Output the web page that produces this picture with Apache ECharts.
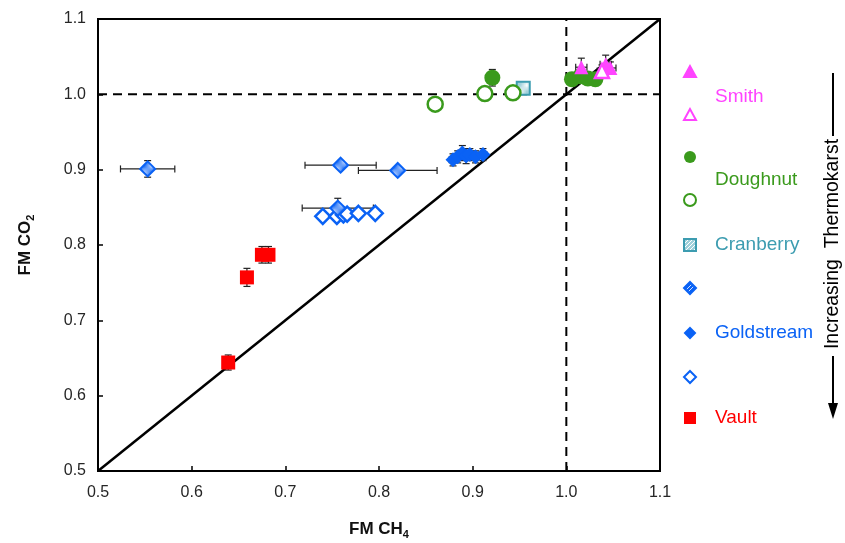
<!DOCTYPE html>
<html>
<head>
<meta charset="utf-8">
<script src="https://cdn.jsdelivr.net/npm/echarts@6/dist/echarts.min.js"></script>
<style>
  html, body { margin: 0; padding: 0; background: #fff; }
  #chart { width: 845px; height: 543px; }
</style>
</head>
<body>
<div id="chart"></div>
<script>
// Axis ticks
const xTicks = [0.5, 0.6, 0.7, 0.8, 0.9, 1.0, 1.1]
const yTicks = [0.5, 0.6, 0.7, 0.8, 0.9, 1.0, 1.1]

// Smith
const smithFilledX = [1.016, 1.042, 1.047]
const smithFilledY = [1.036, 1.040, 1.035]
const smithFilledXErr = [0.006, 0.006, 0.006]
const smithFilledYErr = [0.012, 0.012, 0.008]
const smithOpenX = [1.038]
const smithOpenY = [1.031]
const smithOpenXErr = [0.005]
const smithOpenYErr = [0.008]

// Doughnut
const doughFilledX = [0.921, 1.006, 1.015, 1.023, 1.031]
const doughFilledY = [1.022, 1.020, 1.024, 1.021, 1.020]
const doughFilledXErr = [0, 0.004, 0.004, 0.004, 0.004]
const doughFilledYErr = [0.011, 0.006, 0.006, 0.006, 0.006]
const doughOpenX = [0.860, 0.913, 0.943]
const doughOpenY = [0.987, 1.001, 1.002]

// Cranberry
const cranX = [0.954]
const cranY = [1.008]

// Goldstream
const goldHatchX = [0.553, 0.759, 0.820, 0.756]
const goldHatchY = [0.901, 0.906, 0.899, 0.849]
const goldHatchXErr = [0.029, 0.038, 0.042, 0.038]
const goldHatchYErr = [0.011, 0.003, 0.003, 0.013]
const goldSolidX = [0.879, 0.884, 0.889, 0.893, 0.897, 0.903, 0.911]
const goldSolidY = [0.913, 0.917, 0.922, 0.918, 0.920, 0.917, 0.920]
const goldSolidXErr = [0.004, 0.004, 0.004, 0.004, 0.004, 0.004, 0.004]
const goldSolidYErr = [0.008, 0.008, 0.010, 0.010, 0.008, 0.008, 0.008]
const goldOpenX = [0.740, 0.755, 0.762, 0.766, 0.778, 0.796]
const goldOpenY = [0.838, 0.838, 0.840, 0.841, 0.842, 0.842]

// Vault
const vaultX = [0.639, 0.659, 0.675, 0.682]
const vaultY = [0.644, 0.757, 0.787, 0.787]
const vaultYErr = [0.010, 0.012, 0.011, 0.011]

const C_SMITH = '#ff44ff'
const C_DOUGH = '#3a9a1c'
const C_CRAN = '#3c9cb0'
const C_GOLD = '#0a62f5'
const C_VAULT = '#ff0000'
const FONT = 'Liberation Sans, Arial, sans-serif'

const pts = (xs, ys) => xs.map((x, i) => [x, ys[i]])
const errs = (xs, ys, ex, ey) => xs.map((x, i) => [x, ys[i], ex ? ex[i] : 0, ey ? ey[i] : 0])

// hatch fill
const hatch = (bg, fg) => {
  const c = document.createElement('canvas')
  c.width = 4; c.height = 4
  const ctx = c.getContext('2d')
  ctx.fillStyle = bg
  ctx.fillRect(0, 0, 4, 4)
  ctx.strokeStyle = fg
  ctx.lineWidth = 1
  ctx.beginPath()
  ctx.moveTo(0, 4); ctx.lineTo(4, 0)
  ctx.stroke()
  return c
}
const goldHatch = { image: hatch(C_GOLD, '#cfe0ff'), repeat: 'repeat' }
const cranHatch = { image: hatch('#9fd0da', '#ffffff'), repeat: 'repeat' }

const errorData = [
  ...errs(smithFilledX, smithFilledY, smithFilledXErr, smithFilledYErr),
  ...errs(smithOpenX, smithOpenY, smithOpenXErr, smithOpenYErr),
  ...errs(doughFilledX, doughFilledY, doughFilledXErr, doughFilledYErr),
  ...errs(goldHatchX, goldHatchY, goldHatchXErr, goldHatchYErr),
  ...errs(goldSolidX, goldSolidY, goldSolidXErr, goldSolidYErr),
  ...errs(vaultX, vaultY, null, vaultYErr)
]

const chart = echarts.init(document.getElementById('chart'))

const seg = (x1, y1, x2, y2) => ({
  type: 'line',
  shape: { x1, y1, x2, y2 },
  style: { stroke: '#222', lineWidth: 1.2 }
})

const renderError = (params, api) => {
  const x = api.value(0), y = api.value(1), ex = api.value(2), ey = api.value(3)
  const c = api.coord([x, y])
  const cap = 3.5
  const children = []
  if (ey > 0) {
    const t = api.coord([x, y + ey]), b = api.coord([x, y - ey])
    children.push(seg(c[0], t[1], c[0], b[1]), seg(c[0] - cap, t[1], c[0] + cap, t[1]), seg(c[0] - cap, b[1], c[0] + cap, b[1]))
  }
  if (ex > 0) {
    const l = api.coord([x - ex, y]), r = api.coord([x + ex, y])
    children.push(seg(l[0], c[1], r[0], c[1]), seg(l[0], c[1] - cap, l[0], c[1] + cap), seg(r[0], c[1] - cap, r[0], c[1] + cap))
  }
  return { type: 'group', children }
}

const axisCommon = {
  type: 'value',
  min: 0.5,
  max: 1.1,
  interval: 0.1,
  axisLine: { lineStyle: { color: '#000', width: 2 } },
  axisTick: { inside: true, length: 5, lineStyle: { color: '#000', width: 1.5 } },
  splitLine: { show: false },
  axisLabel: { formatter: v => v.toFixed(1), color: '#262626', fontSize: 16, fontFamily: FONT }
}

const nameRich = {
  b: { fontWeight: 'bold', fontSize: 17, fontFamily: FONT, color: '#111', lineHeight: 22 },
  s: { fontWeight: 'bold', fontSize: 11, fontFamily: FONT, color: '#111', lineHeight: 11, verticalAlign: 'bottom' }
}

// legend keys (right side)
const LX = 690, TX = 715
const tri = (y, fill, stroke) => ({
  type: 'polygon',
  shape: { points: [[LX, y - 6], [LX - 6, y + 5], [LX + 6, y + 5]] },
  style: { fill, stroke, lineWidth: 2 }
})
const dia = (y, fill, stroke, r) => ({
  type: 'polygon',
  shape: { points: [[LX, y - r], [LX + r, y], [LX, y + r], [LX - r, y]] },
  style: { fill, stroke, lineWidth: 2 }
})
const label = (y, text, color) => ({
  type: 'text', x: TX, y,
  style: { text, fill: color, font: '19px ' + FONT, verticalAlign: 'middle' }
})

const solid = (color, extra) => ({ color, opacity: 1, ...extra })

chart.setOption({
  animation: false,
  grid: {
    left: 98, right: 185, top: 19, bottom: 72,
    outerBoundsMode: 'none', containLabel: false,
    show: true, borderColor: '#000', borderWidth: 2
  },
  xAxis: {
    ...axisCommon,
    axisLabel: { ...axisCommon.axisLabel, margin: 14 },
    name: '{b|FM CH}{s|4}',
    nameLocation: 'middle',
    nameGap: 47,
    nameTextStyle: { rich: nameRich }
  },
  yAxis: {
    ...axisCommon,
    axisLabel: { ...axisCommon.axisLabel, margin: 12 },
    name: '{b|FM CO}{s|2}',
    nameLocation: 'middle',
    nameGap: 62,
    nameRotate: 90,
    nameTextStyle: { rich: nameRich }
  },
  graphic: [
    tri(72, C_SMITH, C_SMITH),
    label(97, 'Smith', C_SMITH),
    tri(115, '#fff', C_SMITH),
    { type: 'circle', shape: { cx: LX, cy: 157, r: 6 }, style: { fill: C_DOUGH } },
    label(180, 'Doughnut', C_DOUGH),
    { type: 'circle', shape: { cx: LX, cy: 200, r: 6 }, style: { fill: '#fff', stroke: C_DOUGH, lineWidth: 2 } },
    { type: 'rect', shape: { x: LX - 6, y: 239, width: 12, height: 12 }, style: { fill: cranHatch, stroke: C_CRAN, lineWidth: 2 } },
    label(245, 'Cranberry', C_CRAN),
    dia(288, goldHatch, C_GOLD, 6),
    dia(333, C_GOLD, C_GOLD, 5),
    label(333, 'Goldstream', C_GOLD),
    dia(377, '#fff', C_GOLD, 6),
    { type: 'rect', shape: { x: LX - 6, y: 412, width: 12, height: 12 }, style: { fill: C_VAULT } },
    label(418, 'Vault', C_VAULT),
    { type: 'line', shape: { x1: 833, y1: 73, x2: 833, y2: 136 }, style: { stroke: '#000', lineWidth: 2 } },
    {
      type: 'text', x: 833, y: 244, rotation: Math.PI / 2,
      style: { text: 'Increasing  Thermokarst', font: '19.5px ' + FONT, fill: '#000', align: 'center', verticalAlign: 'middle' }
    },
    { type: 'line', shape: { x1: 833, y1: 356, x2: 833, y2: 408 }, style: { stroke: '#000', lineWidth: 2 } },
    { type: 'polygon', shape: { points: [[828, 403], [838, 403], [833, 419]] }, style: { fill: '#000' } }
  ],
  series: [
    {
      type: 'line', data: [[0.5, 0.5], [1.1, 1.1]], symbol: 'none', silent: true,
      lineStyle: { color: '#000', width: 2.5 }, z: 1
    },
    {
      type: 'line', data: [[1.0, 0.5], [1.0, 1.1]], symbol: 'none', silent: true,
      lineStyle: { color: '#000', width: 2, type: [9, 6] }, z: 1
    },
    {
      type: 'line', data: [[0.5, 1.0], [1.1, 1.0]], symbol: 'none', silent: true,
      lineStyle: { color: '#000', width: 2, type: [9, 6] }, z: 1
    },
    {
      type: 'custom', renderItem: renderError, data: errorData,
      encode: { x: 0, y: 1 }, z: 2, silent: true
    },
    {
      name: 'Vault', type: 'scatter', symbol: 'rect', symbolSize: 14, z: 3,
      data: pts(vaultX, vaultY), itemStyle: solid(C_VAULT)
    },
    {
      name: 'Goldstream open', type: 'scatter', symbol: 'diamond', symbolSize: 15, z: 3,
      data: pts(goldOpenX, goldOpenY), itemStyle: solid('#fff', { borderColor: C_GOLD, borderWidth: 2.5 })
    },
    {
      name: 'Goldstream hatched', type: 'scatter', symbol: 'diamond', symbolSize: 15, z: 4,
      data: pts(goldHatchX, goldHatchY), itemStyle: solid(goldHatch, { borderColor: C_GOLD, borderWidth: 2 })
    },
    {
      name: 'Goldstream', type: 'scatter', symbol: 'diamond', symbolSize: 15, z: 3,
      data: pts(goldSolidX, goldSolidY), itemStyle: solid(C_GOLD)
    },
    {
      name: 'Cranberry', type: 'scatter', symbol: 'rect', symbolSize: 13, z: 3,
      data: pts(cranX, cranY), itemStyle: solid(cranHatch, { borderColor: C_CRAN, borderWidth: 2 })
    },
    {
      name: 'Doughnut open', type: 'scatter', symbol: 'circle', symbolSize: 15, z: 3,
      data: pts(doughOpenX, doughOpenY), itemStyle: solid('#fff', { borderColor: C_DOUGH, borderWidth: 2.5 })
    },
    {
      name: 'Doughnut', type: 'scatter', symbol: 'circle', symbolSize: 16, z: 3,
      data: pts(doughFilledX, doughFilledY), itemStyle: solid(C_DOUGH)
    },
    {
      name: 'Smith', type: 'scatter', symbol: 'triangle', symbolSize: 14, z: 4,
      data: pts(smithFilledX, smithFilledY), itemStyle: solid(C_SMITH)
    },
    {
      name: 'Smith open', type: 'scatter', symbol: 'triangle', symbolSize: 14, z: 5,
      data: pts(smithOpenX, smithOpenY), itemStyle: solid('#fff', { borderColor: C_SMITH, borderWidth: 2.5 })
    }
  ]
})

window.addEventListener('resize', () => chart.resize())
</script>
</body>
</html>
